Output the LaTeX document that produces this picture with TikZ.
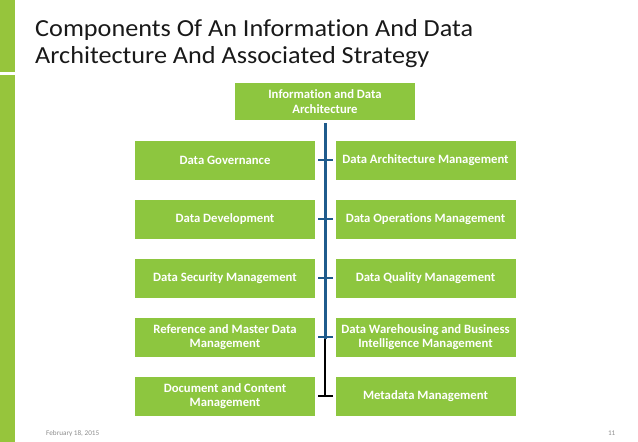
\documentclass[tikz,border=0pt]{standalone}
\usepackage{fontspec}
\setmainfont{Carlito}[Ligatures=NoCommon]
\definecolor{boxgreen}{RGB}{141,198,63}
\definecolor{bargreen}{RGB}{150,197,60}
\definecolor{lineblue}{RGB}{31,91,140}
\begin{document}
\begin{tikzpicture}[x=1pt, y=-1pt,
    box/.style={fill=boxgreen, text=white, minimum width=180pt, minimum height=39pt,
      inner sep=2pt, align=center, font=\fontsize{12.7}{14.5}\selectfont\bfseries},
    titletext/.style={anchor=base west, inner sep=0, transform shape, xscale=1.07,
      text=black!90, font=\fontsize{24.5}{28}\selectfont},
    foot/.style={inner sep=0, text=black!45, font=\fontsize{7.2}{8}\selectfont},
    tick/.style={draw=lineblue, line width=1.5pt}]
  \useasboundingbox (0,0) rectangle (638,442);
  % side bar
  \fill[bargreen] (0,0) rectangle (15,72);
  \fill[bargreen] (0,75) rectangle (15,442);

  \node[titletext] (title1) at (35,36.7) {Components Of An Information And Data};
  \node[titletext] (title2) at (35,63.5) {Architecture And Associated Strategy};

  \node[box, minimum height=37pt] (top) at (325,101.5) {Information and Data\\Architecture};

  \foreach \i/\ltext/\rtext in {1/{Data Governance}/{Data Architecture Management},
      2/{Data Development}/{Data Operations Management},
      3/{Data Security Management}/{Data Quality Management},
      4/{Reference and Master Data\\Management}/{Data Warehousing and Business\\Intelligence Management},
      5/{Document and Content\\Management}/{Metadata Management}}
  {
    \node[box] (l\i) at (225,{101+59*\i}) {\ltext};
    \node[box] (r\i) at (425.5,{101+59*\i}) {\rtext};
  }

  \coordinate (split) at ([yshift=-2pt]top.south |- l4.east);
  \coordinate (bottom) at (top.south |- l5.east);
  \draw[lineblue, line width=3pt] ([yshift=-3pt]top.south) -- (split);
  \draw[black, line width=1.5pt] (split) -- (bottom);
  \foreach \i in {1,2,3,4}
    \draw[tick] ([xshift=3pt]l\i.east) -- ([xshift=-2pt]r\i.west);
  \draw[black, line width=1.5pt] ([xshift=3pt]l5.east) -- ([xshift=-2pt]r5.west);

  % footer
  \node[foot, anchor=base west] (date) at (46,435.7) {February 18, 2015};
  \node[foot, anchor=base east] (page) at (615.5,435.7) {11};
\end{tikzpicture}
\end{document}
